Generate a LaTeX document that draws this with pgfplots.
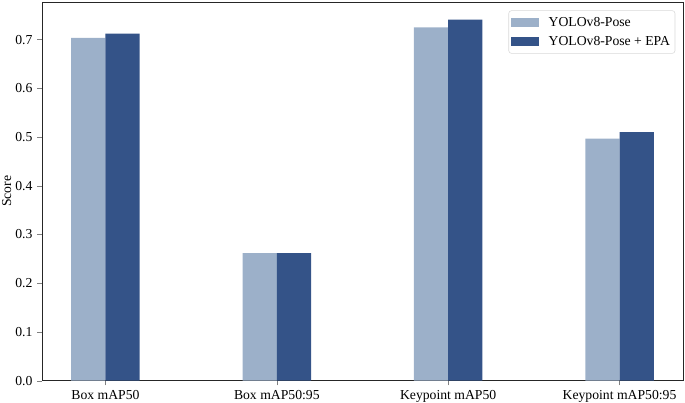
\documentclass[border=0pt]{standalone}
\usepackage{fontspec}
\setmainfont{Liberation Serif}
\usepackage{pgfplots}
\pgfplotsset{compat=1.18}
\definecolor{lightbar}{HTML}{9CB0C9}
\definecolor{darkbar}{HTML}{345388}

\begin{document}
\begin{tikzpicture}
\begin{axis}[
    scale only axis,
    width=468pt, height=276.5pt,
    xmin=-0.37, xmax=3.37,
    ymin=0, ymax=0.777,
    xtick={0,1,2,3},
    xticklabels={Box mAP50,Box mAP50:95,Keypoint mAP50,Keypoint mAP50:95},
    ytick={0,0.1,0.2,0.3,0.4,0.5,0.6,0.7},
    yticklabel style={/pgf/number format/.cd,fixed,fixed zerofill,precision=1},
    /pgf/number format/assume math mode=true,
    tick label style={font=\fontsize{10}{12}\selectfont},
    label style={font=\fontsize{10}{12}\selectfont},
    ylabel={Score},
    ylabel style={yshift=-4pt},
    tick align=outside,
    major tick length=3.5pt,
    xtick pos=bottom, ytick pos=left,
    axis line style={black!85, line width=0.6pt},
    ybar, bar width=0.2,
    legend style={at={(0.988,0.978)}, anchor=north east,
        draw=black!15, rounded corners=2pt, fill=white,
        font=\fontsize{10}{12}\selectfont,
        inner xsep=1.65pt, inner ysep=2pt, row sep=0.5pt,
        nodes={inner xsep=2pt, inner ysep=2.6pt},
        /tikz/every odd column/.append style={column sep=5pt}},
    legend cell align=left,
    legend image code/.code={\fill[#1, sharp corners] (0cm,-0.125cm) rectangle (0.72cm,0.125cm);},
]
\addplot[fill=lightbar, draw=none, bar shift=-0.1]
    coordinates {(0,0.7035) (1,0.262) (2,0.725) (3,0.4966)};
\addlegendentry{YOLOv8-Pose}
\addplot[fill=darkbar, draw=none, bar shift=0.1]
    coordinates {(0,0.712) (1,0.262) (2,0.741) (3,0.510)};
\addlegendentry{YOLOv8-Pose + EPA}
\end{axis}
\pgfresetboundingbox
\path ([xshift=-30.7pt,yshift=-15.6pt]current axis.south west)
    rectangle ([xshift=1.5pt,yshift=1.5pt]current axis.north east);
\end{tikzpicture}
\end{document}
